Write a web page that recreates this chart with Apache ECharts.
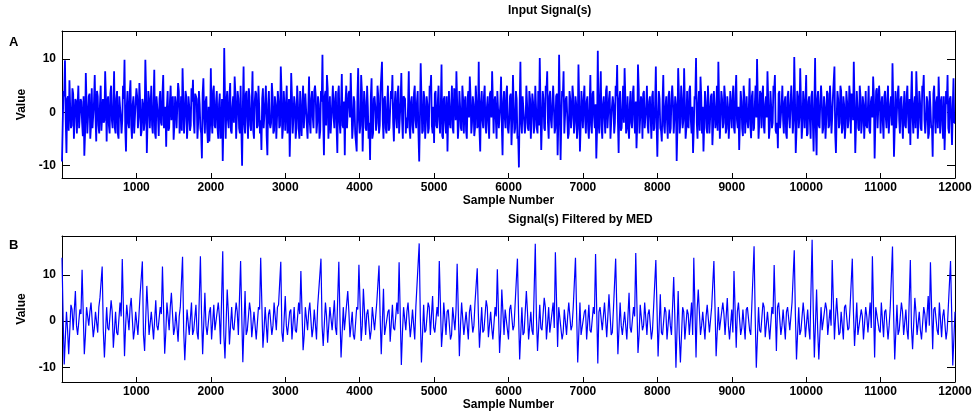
<!DOCTYPE html>
<html><head><meta charset="utf-8">
<script src="https://cdn.jsdelivr.net/npm/echarts@6/dist/echarts.min.js"></script>
<style>html,body{margin:0;padding:0;background:#fff}#c{width:977px;height:418px}</style>
</head><body><div id="c"></div>
<script>
// Sample spacing of the estimated values (samples per value) and offsets of the in-between values
const stepA = 20;
const stepA2 = 20, offsetA2 = 10;
const stepB = 30;
const stepB2 = 60, offsetB2 = 15;
const xMax = 12000;
const xTickInterval = 1000;
const yTicks = [-10, 0, 10];
const yRangeA = [-12.4, 15.3];
const yRangeB = [-13.2, 18.4];
const titleA = 'Input Signal(s)';
const titleB = 'Signal(s) Filtered by MED';
const xName = 'Sample Number';
const yName = 'Value';

// Panel A: input signal (local extremes)
const signalA = [
-9.3,4,9.8,-7.7,3,6,-3,4.5,-5,2.5,
-4,5,-3,2,-4.5,-8.2,7.4,-4,3,-5,
4.5,-3,7,-5.5,3,-4,5,-3.5,-2,7.7,
-5.5,3,-4,5,-3,7.7,-4,4,-5,3,
-4,5,9.9,-7.4,4,-3,6,-5,3,-4,
4.5,-3,5.5,-4.5,2.5,-3.5,9.9,-7.7,4,-3,
5,-4,8,-5,3,-4.5,4,-2.5,7,-3,
-6.5,4,-3,5,2,-5.2,3,-3,5.5,-4,
3,8.3,-4,4,-5,3,-3.5,4.5,6.1,-4,
3,-5,4,-3,-8.7,6.4,-4,3,-5.8,-5.5,
8.3,-4,5,-3,4,-5,3.5,-4,-9.2,12.1,
-5,4,-3,5.5,-4,3,6.7,-5,4,-3,
5,-10.1,8.6,-4,4,-5,3,-3.5,7.7,-5,
4,-3,5,-4,-7.1,4.5,-3,5,-8.1,4,
-3,5.5,-4,3,-5,4,-3,8.6,-5,4,
-3.5,5,-4,-8.4,7.4,-4,3,-5,5,-3,
4,-4.5,5,-3,3.5,-5,6.7,-4,4,-3,
5,-4,3,-5,4,10.8,-8.1,4,7,-5,
3,-4,5,-3,4,-7.7,5,-4,7.2,-3,
-8.1,5,-3,4,7.4,-5,3,-4,-7.4,8.3,
-4,7,-7.4,4,-3,5,-5,-9,6.4,-4,
3,-3.5,5,-4,4,9.5,-5,3,-4,5,
-3,4,7,-5.5,4,-3,5,-4,7.4,-5,
3,-4,-3,7.7,-5,3,-4,5,-3,4,
-9.3,9.2,-4,4,-5,3,-4,5,7,-4,
-5.8,4,-3,5,-4,9,-5,3,-4,-7.4,
4,-3,5,-4,3,7.7,-5,4,-3,5,
-4,3,-5,4,6.7,-4,3,-4.5,5,-3,
9.5,-7.4,4,-3,5,-4,3,-5,4,7.7,
-4,3,-5,4,-3,6.7,-8.1,4,-3,5,
-4,3,-6.2,7,-4,4,-5,-10.4,9.5,-4,
3,-4,5,-3,4,-5,3.5,-4,5,-3,
4,10.2,-7.1,4,-3,5,7.7,-5,4,-3,
5,-4,3,-8.1,10.8,-9,4,7.7,-4,3,
-5,4,-3,5,-4,3,-5,9,-7.4,4,
-3,5,-4,3,-5,7,-4,4,-3,-8.7,
11.6,-4,7.7,-5,3,-4,5,-3,4,-5,
3,-4,5,8.9,-7.7,4,-3,5,8.3,-4,
3,-5,4,-3,5,-4,-6.8,9,-4,3,
-5,4,-3,5,-4,3,-5,4,-3,8.6,
-8.4,4,-3,-5.5,7,-4,3,-5,4,-3,
5,-4,3,-9.2,8.3,-4,5,-3,8.3,-5,
4,-3,5,-4,-7.7,3,10.2,-5,4,6.7,
-4,-7.4,4,-3,5,-4,3,-6.2,4,-3,
5,9.5,-5,4,-3,5,-4,3,-5,4,
-3,5,-4,7,-3,-7.1,4,-3,5,-4,
3,-3,6.4,-4.9,4,-3,5,10,-5,4,
-3,5,-4,3,7.7,-5,4,-3,5,7,
-4,-6.8,4,-3,5,-4,3,-5,4,-3,
5,-4,10.4,-7.7,4,-3,8.3,-5,4,-3,
7,-4,3,-5,4,-7.4,10.2,-8.1,4,-3,
5,-4,3,-5,4,-3,5,-4,3,8.6,
-7.7,4,-3,5,-4,3,-5,4,-3,5,
-4,3,9.5,-7.7,4,-3,5,-4,3,-5,
4,-3,5,-4,3,6.7,-8.7,4,-3,5,
-4,3,-5,4,-3,5,-4,3,9.2,-8.4,
4,-3,5,-4,3,-5,4,-3,5,-4,
-6.2,7.7,-4,3,7.7,-5,4,-3,5,7,
-4,3,-5,4,-3,-8.4,5,-4,3,6.7,
-4,3,-5,-7.1,4,7,-4,3,-6.2,6.4,
-2
];
// Panel A: in-between values of the dense core band
const signalA2 = [
-2,3,-1.5,2.5,-3.5,1,-2.5,3.5,-1,2,
1.5,-3,2.5,-2,3,-4,1.5,-1,3.5,-2.5,
-3,2,-1,4,-2.5,1.5,-3.5,2.5,-1.5,3,
2,-2.5,3.5,-1.5,1,-3,2.5,-4,3,-1,
-1.5,2.5,-3,1,-2,3.5,-2.5,1.5,-4,2,
3,-1,2,-3.5,1.5,-2,4,-1.5,2.5,-3,
-2.5,1.5,-4,3,-1,2.5,-2,3.5,-3,1,
1,-3.5,2,-1.5,3,-2.5,1.5,-3,4,-2,
-3.5,2.5,-1,3,-2,1,-2.5,2,-1.5,3.5,
2.5,-2,1.5,-4,3.5,-1,2,-3,1,-2.5,
-1,4,-2.5,2,-3,1.5,-5,2.5,-1.5,3,
2,-1.5,3,-3.5,1,-2,3.5,-1,2.5,-4,
-3,1,-2,3.5,-1.5,4.5,-2.5,1.5,-3.5,2,
3.5,-2.5,1,-1.5,2.5,-3,2,-4.5,1.5,-2,
-2,3,-3.5,1.5,-1,2,-2.5,4,-3,1,
1.5,-4,2.5,-2,3,-1,1.5,-3,2,-5,
-1.5,2,-3,3.5,-2.5,1,-2,2.5,-1,4,
3,-2,1.5,-3.5,2,-1.5,3,-2.5,4.5,-1,
-4,1.5,-1,2.5,-3,3.5,-2,1,-2.5,2,
2,-3,3.5,-1,1.5,-2.5,2,-4,3,-1.5,
-2.5,4,-1.5,2,-3.5,1,-2,3,-5,2.5,
1,-2,3,-2.5,4,-1.5,2.5,-3,1.5,-3.5,
-3,2.5,-2,1.5,-1,3.5,-4,2,-1.5,3,
2.5,-1,1,-3,2,-2.5,3.5,-1.5,2,-4,
-1,3,-3.5,2.5,-2,1.5,-3,4,-2.5,1,
3.5,-2.5,2,-1.5,1,-4.5,2.5,-2,3,-1,
-2,1.5,-3,4.5,-1.5,2,-2.5,1,-3.5,2.5,
1.5,-3.5,2.5,-1,3,-2,1.5,-3,2,-2.5,
-3.5,2,-1.5,3,-2.5,1,-2,3.5,-1,2,
2,-1.5,4,-3,1.5,-2.5,2,-1,3.5,-3,
-1.5,3.5,-2,1,-3,2.5,-4.5,1.5,-2,3,
3,-2,1.5,-3.5,2.5,-1,2,-2.5,1,-4,
-2.5,1,-1.5,2.5,-3.5,4,-2,3,-1.5,1.5,
1,-3,3.5,-2,2,-1.5,3,-4,2.5,-1,
-4,2.5,-1,3,-2,1.5,-3,2,-2.5,4,
2.5,-1.5,2,-3,1,-2.5,3.5,-1,1.5,-3.5,
-2,3,-2.5,1.5,-1,4,-3,2.5,-5,1,
1.5,-2,3,-1.5,2.5,-3.5,1,-2,3,-2.5,
-3,1.5,-2,3.5,-1.5,2,-2.5,4.5,-1,2,
3.5,-3,1,-2.5,2,-1,3,-3.5,1.5,-2,
-1,2.5,-3.5,2,-2.5,1,-1.5,3,-4,2.5,
2,-1,1.5,-3,3.5,-2,2.5,-1.5,2,-3,
-2.5,4,-1.5,1,-3,2.5,-2,1.5,-3.5,3,
1,-2.5,2,-4,1.5,-1,3.5,-2.5,1,-1.5,
-3.5,2,-1,2.5,-2,3,-3,1,-1.5,4,
2.5,-3,3.5,-1.5,1,-2,2,-4.5,3,-1,
-1.5,1,-2.5,3,-3.5,1.5,-1,2.5,-2,3.5,
3,-2.5,1.5,-1,2.5,-3,1,-2,4,-3.5,
-2,3.5,-3,1.5,-1.5,2,-4,3,-1,1.5,
1.5,-1.5,2.5,-3.5,3,-1,2,-2.5,1.5,-3,
-4.5,2,-1.5,3,-2,1,-3,2.5,-2.5,2,
2,-3,1,-1.5,3.5,-2.5,1.5,-1,3,-4,
-1,2.5,-2,4,-3,1.5,-2.5,2,-1.5,3,
3.5,-1.5,2,-2.5,1,-3.5,3,-2,1.5,-1,
-2.5,1,-3.5,2,-1,3,-2,4.5,-3,2,
1,-2,3,-1,2.5,-4,1.5,-2.5,2,-3,
-3,3.5,-1.5,2.5,-2,1,-2.5,3,-1,2.5,
2.5,-1,1.5,-3,3,-2,2,-3.5,4,-1.5,
-1.5,2,-4,1,-2.5,3.5,-1,2,-3,1.5,
2,-2.5,3,-2,1.5,-3,2.5,-1.5,1,-2
];

// Panel B: filtered signal
const signalB = [
13.7,-9.4,2,-7.2,3.5,-2,6.5,-3,2.5,11.1,
-7.2,3,-1,4,-3.5,2,-2.5,5,11.8,-7.9,
3,-2,4.5,-5.8,2,-3,4,13.4,-7.6,3.5,
-2,5,-4,2,-3,5.8,12.9,-6.5,7.6,-3,
2,-4,4.5,-2,3,11.8,-7.1,4,-2,6.1,
-3,2,-4.5,3,13.9,-8.5,2.5,-3,4,-2,
3.5,-4,14,-7.2,6.1,-3,2,-4,3.5,-2,
4,-5,15.1,-8.1,6.8,-5.1,3,-2,4,-3,
13,-8.9,6.5,-2,4,-3.5,2,-4,3,13.7,
-5.8,3,-4.7,2.5,-3,4,-2,3.5,12.8,-4.5,
5.4,-3,2,-4,3,-2.5,4,10.8,-6.3,3,
-2,4,-3.5,2.5,-4,3,13.5,-5.4,4,-4.7,
3,-2,4.5,-3,12.8,-7.9,3,-2,6.5,-3.5,
2,-4,3,12.2,-4.3,7,-3,2.5,-4,3,
-2,4,12,-7.2,7,-3,2,-4.5,3.5,-2,
4,12.7,-9.5,3,-2,4,-3.5,2.5,-4,3,
16.8,-9,3.5,-2,4,-3,5.4,-2.5,3,13,
-5.6,4,-3,2.5,-4,3,-2,12.4,-7.6,4,
-3,2,-4,3.5,-2.5,4,11.4,-5.8,3,-2,
4.5,-3.5,2,-4,3,11.2,-6.9,6.8,-3,2.5,
-4,3.5,-2,4,13.5,-8.3,3,-2.5,6.5,-4,
2,-3,16.7,-6.5,3.5,-2,5,-4,3,-2.5,
4,14.9,-5.6,3,-4,2.5,-3,4,-2,3,
13.7,-9,4,-3,2,-4,3.5,-2.5,3,14.5,
-9.2,3,-2,4,-3.5,5.8,-3,2.5,13.5,-7.2,
4,-3,2,-4,6.1,-2.5,3,14.7,-6.9,3.5,
-2,4,-3,2.5,-4,3,13.2,-7.7,5.8,-3,
3,-4,2.5,-3,9.5,-10.1,6.5,-9,3,-4,
2.5,-3,4,13.7,-7.9,6.8,-3,2,-4,3.5,
-2.5,3,13,-7.6,3,-2,4,-3,5,-4,
2.5,10.8,-5.8,4,-3,2.5,-4,3,-2,3.5,
16.2,-10.1,3,-2.5,4,-3.5,2,-4,3,12.1,
-6.5,4,-3,2.5,-4,3,-2,4,15.3,-8.3,
3,-2,4,-3.5,2.5,-4,17.6,-7.9,6.8,-8.3,
3,-2,4,-3,2.5,13.2,-4,5,-3,2,
-4,3.5,-2,3,13.5,-5.4,4,-3,2.5,-4,
3,-2.5,4,14,-7.9,3,-2,4,-3.5,2.5,
-4,3,16.1,-8.3,3.5,-2,4,-3,2.5,-4,
13.2,-6.1,5,-3,2,-4,3,-2.5,5.4,12.7,
-6.1,3,-2,4,-3.5,2.5,-4,3,13,-9.6,
2
];
// Panel B: in-between values
const signalB2 = [
1,-2,2.5,-1,1.5,-3,2,-1.5,3,-2,
-1.5,2,-2.5,1,-1,3,-2,1.5,-3,2.5,
2,-1,1.5,-2.5,3,-1.5,1,-2,2.5,-3,
-2.5,1.5,-1,3,-2,1,-3,2,-1.5,2,
1.5,-3,2,-1,2.5,-2,1.5,-1,3,-2.5,
-1,2.5,-2,1.5,-3,2,-1.5,3,-1,1,
3,-1.5,1,-2,2,-3,2.5,-1,1.5,-2,
-2,1,-3,2.5,-1.5,1.5,-2.5,2,-1,3,
1,-2.5,3,-1.5,1,-2,2,-3,2.5,-1,
-3,2,-1,1.5,-2.5,3,-1.5,1,-2,2.5,
2.5,-1,1.5,-3,2,-2,1,-1.5,3,-2.5,
-1.5,3,-2.5,1,-1,2,-3,2.5,-2,1.5,
2,-2,1,-2.5,3,-1,2,-1.5,1,-3,
-1,1.5,-2,3,-2.5,2,-1,1,-3,2,
1.5,-3,2.5,-1,1,-2.5,3,-2,1.5,-1,
-2.5,2,-1.5,2.5,-3,1,-2,3,-1,1.5,
3,-1,2,-2,1.5,-3,1,-1.5,2.5,-2,
-2,2.5,-1,1,-2.5,3,-1.5,2,-3,1,
1,-1.5,3,-2.5,2,-1,1.5,-3,2,-2,
-1.5,2,-2,1.5,-1,2.5,-3,1,-2,2
];

const font = 'Liberation Sans, Arial, Helvetica, sans-serif';
const txt = {color:'#000', fontFamily:font, fontWeight:'bold', fontSize:12};

// Interleave the main values and the in-between values along the sample axis
function buildSeries(main, stepMain, extra, stepExtra, offExtra){
  const pts = main.map((v,i)=>[Math.min(i*stepMain, xMax), v])
    .concat(extra.map((v,i)=>[offExtra + i*stepExtra, v]));
  pts.sort((a,b)=>a[0]-b[0]);
  return pts;
}

const grids = [
  {left:62, top:31, width:893, height:147},
  {left:62, top:236, width:893, height:146}
];

function xAxes(gi){
  return [
    {gridIndex:gi, type:'value', min:0, max:xMax, interval:xTickInterval, position:'bottom',
     name:xName, nameLocation:'middle', nameGap:15, nameTextStyle:txt,
     axisLine:{show:true, onZero:false, lineStyle:{color:'#000',width:1}},
     axisTick:{show:true, inside:true, length:5, lineStyle:{color:'#000'}},
     axisLabel:Object.assign({margin:4, showMinLabel:false, formatter:v=> v===0?'':String(v)}, txt),
     splitLine:{show:false}},
    {gridIndex:gi, type:'value', min:0, max:xMax, interval:xTickInterval, position:'top',
     axisLine:{show:true, onZero:false, lineStyle:{color:'#000',width:1}},
     axisTick:{show:true, inside:true, length:5, lineStyle:{color:'#000'}},
     axisLabel:{show:false}, splitLine:{show:false}}
  ];
}
function yAxes(gi, range){
  return [
    {gridIndex:gi, type:'value', min:range[0], max:range[1], position:'left',
     name:yName, nameLocation:'middle', nameGap:22, nameRotate:90, nameTextStyle:txt,
     axisLine:{show:true, onZero:false, lineStyle:{color:'#000',width:1}},
     axisTick:{show:true, inside:true, length:8, customValues:yTicks, lineStyle:{color:'#000'}},
     axisLabel:Object.assign({margin:6, customValues:yTicks}, txt),
     splitLine:{show:false}},
    {gridIndex:gi, type:'value', min:range[0], max:range[1], position:'right',
     axisLine:{show:true, onZero:false, lineStyle:{color:'#000',width:1}},
     axisTick:{show:true, inside:true, length:8, customValues:yTicks, lineStyle:{color:'#000'}},
     axisLabel:{show:false}, splitLine:{show:false}}
  ];
}

const chart = echarts.init(document.getElementById('c'), null, {renderer:'canvas'});
chart.setOption({
  animation:false,
  backgroundColor:'#fff',
  grid:grids,
  xAxis:[].concat(xAxes(0), xAxes(1)),
  yAxis:[].concat(yAxes(0, yRangeA), yAxes(1, yRangeB)),
  graphic:[
    {type:'text', left:508, top:5, style:{text:titleA, fill:'#000', font:'bold 12px '+font, textAlign:'center'}},
    {type:'text', left:508, top:214, style:{text:titleB, fill:'#000', font:'bold 12px '+font, textAlign:'center'}},
    {type:'text', left:9, top:36, style:{text:'A', fill:'#000', font:'bold 13px '+font}},
    {type:'text', left:9, top:239, style:{text:'B', fill:'#000', font:'bold 13px '+font}}
  ],
  series:[
    {type:'line', xAxisIndex:0, yAxisIndex:0, data:buildSeries(signalA, stepA, signalA2, stepA2, offsetA2),
     symbol:'none', sampling:false, lineStyle:{color:'#0000ff', width:1.8}, clip:true},
    {type:'line', xAxisIndex:2, yAxisIndex:2, data:buildSeries(signalB, stepB, signalB2, stepB2, offsetB2),
     symbol:'none', lineStyle:{color:'#0000ff', width:1.2}, clip:true}
  ]
});
</script></body></html>
